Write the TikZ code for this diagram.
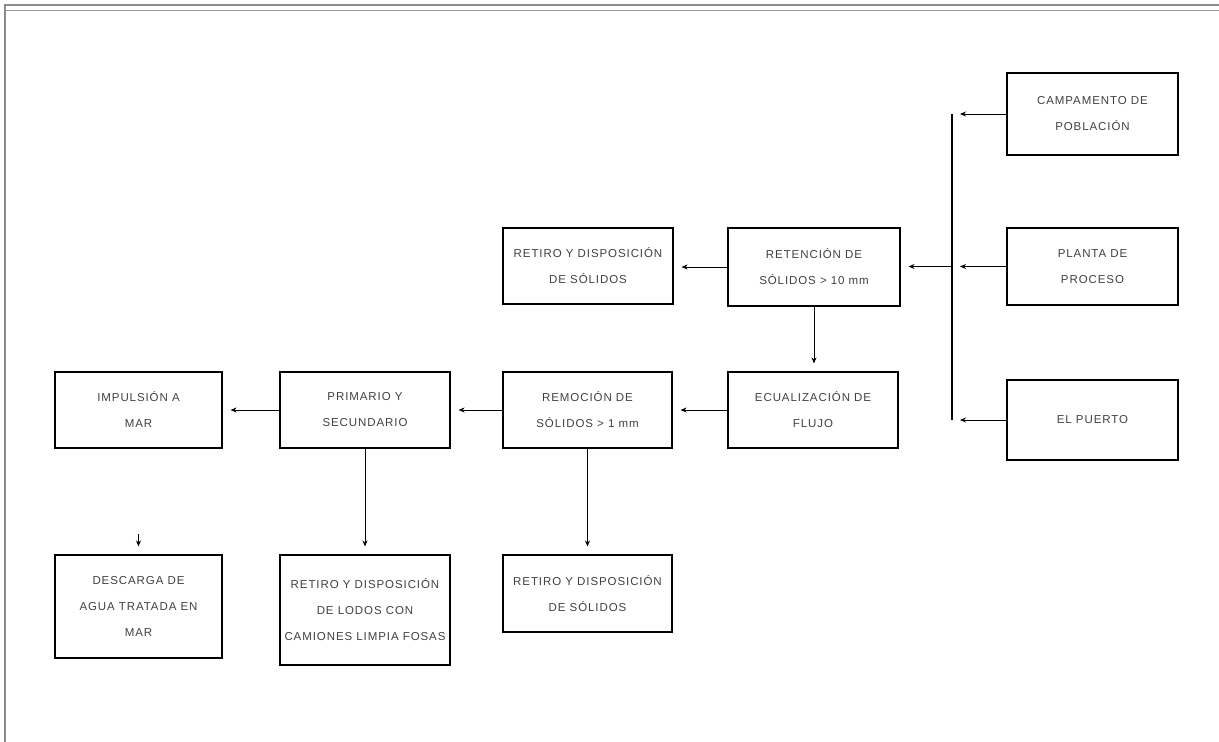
\documentclass[tikz,border=0pt]{standalone}
\usepackage{fontspec}
\setmainfont{Liberation Sans}
\newfontfamily\boxfont[LetterSpace=8]{Liberation Sans}
\usetikzlibrary{arrows.meta}
\tikzset{
  box/.style={draw=black, line width=1.1pt, align=center, inner sep=0pt,
    text=black!75, font=\boxfont\fontsize{11.5}{26}\selectfont},
  conn/.style={draw=black, line width=0.9pt, -{Stealth[length=6pt,width=5pt]}, shorten >=8pt},
  bus/.style={draw=black, line width=1.6pt},
  frame/.style={draw=black!45, line width=1.4pt}
}
\begin{document}
\begin{tikzpicture}[x=1pt,y=-1pt]
\useasboundingbox (0,0) rectangle (1219,742);
% frame
\draw[frame] (5,742) -- (5,5) -- (1219,5);
\draw[black!40, line width=0.8pt] (5,10) -- (1219,10);

% boxes
\node[box, minimum width=167pt, minimum height=76pt] (imp) at (138.5,410) {IMPULSIÓN A\\MAR};
\node[box, minimum width=170pt, minimum height=76pt] (trat) at (365,410) {PRIMARIO Y\\SECUNDARIO};
\node[box, minimum width=169pt, minimum height=76pt] (rem) at (587.5,410) {REMOCIÓN DE\\SÓLIDOS > 1 mm};
\node[box, minimum width=170pt, minimum height=76pt] (ecu) at (813,410) {ECUALIZACIÓN DE\\FLUJO};
\node[box, minimum width=170pt, minimum height=76pt] (ret1) at (588,266) {RETIRO Y DISPOSICIÓN\\DE SÓLIDOS};
\node[box, minimum width=172pt, minimum height=78pt] (retn) at (814,267) {RETENCIÓN DE\\SÓLIDOS > 10 mm};
\node[box, minimum width=167pt, minimum height=103pt] (desc) at (138.5,606.5) {DESCARGA DE\\AGUA TRATADA EN\\MAR};
\node[box, minimum width=170pt, minimum height=110pt] (lodos) at (365,610) {RETIRO Y DISPOSICIÓN\\DE LODOS CON\\CAMIONES LIMPIA FOSAS};
\node[box, minimum width=169pt, minimum height=77pt] (ret2) at (587.5,593.5) {RETIRO Y DISPOSICIÓN\\DE SÓLIDOS};
\node[box, minimum width=171pt, minimum height=82pt] (camp) at (1092.5,114) {CAMPAMENTO DE\\POBLACIÓN};
\node[box, minimum width=171pt, minimum height=77pt] (planta) at (1092.5,266.5) {PLANTA DE\\PROCESO};
\node[box, minimum width=171pt, minimum height=80pt] (puerto) at (1092.5,420) {EL PUERTO};

% collector bus
\coordinate (bt) at (952,114);
\coordinate (bm) at (952,266.5);
\coordinate (bb) at (952,420);
\draw[bus] (bt) -- (bb);
\draw[conn] (camp.west) -- (bt);
\draw[conn] (planta.west) -- (bm);
\draw[conn] (puerto.west) -- (bb);
\draw[conn] (bm) -- (bm -| retn.east);

% process chain
\draw[conn] (retn.west) -- (retn.west -| ret1.east);
\draw[conn] (retn.south) -- (retn.south |- ecu.north);
\draw[conn] (ecu.west) -- (rem.east);
\draw[conn] (rem.west) -- (trat.east);
\draw[conn] (trat.west) -- (imp.east);
\draw[conn] (rem.south) -- (rem.south |- ret2.north);
\draw[conn] (trat.south) -- (lodos.north);
\coordinate (ds) at (138.5,534);
\draw[conn] (ds) -- (desc.north);
\end{tikzpicture}
\end{document}
